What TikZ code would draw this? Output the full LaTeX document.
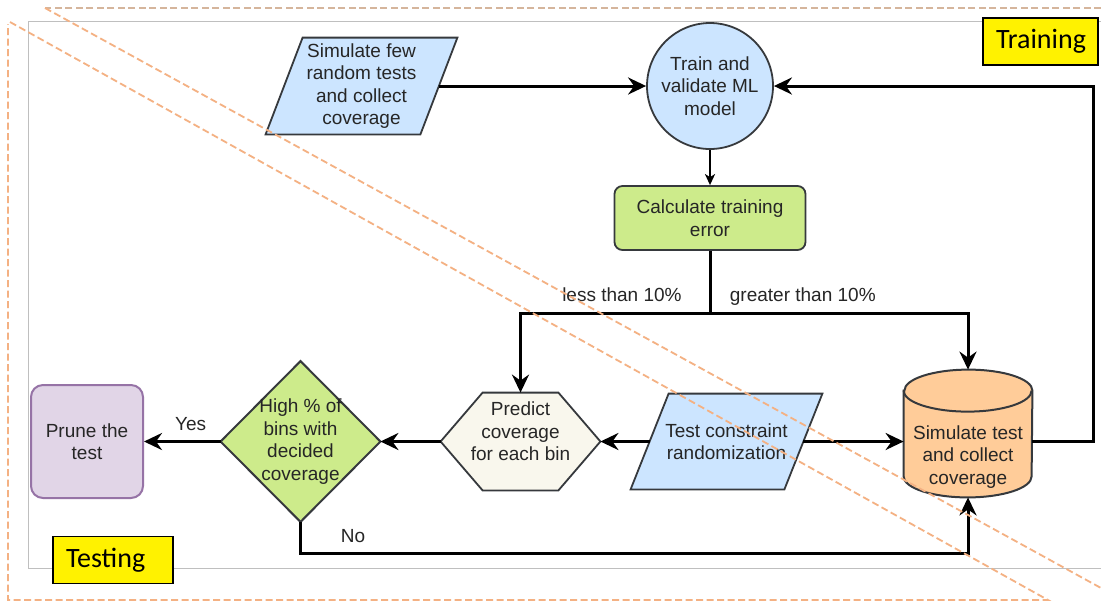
\documentclass[tikz,border=0pt]{standalone}
\usepackage{fontspec}
\setmainfont{Liberation Sans}
\newfontfamily\zonefont{Carlito}
\usetikzlibrary{positioning,arrows.meta,backgrounds}
\definecolor{iofill}{HTML}{CCE5FF}
\definecolor{calcfill}{HTML}{CDEB8B}
\definecolor{hexfill}{HTML}{F9F7ED}
\definecolor{simfill}{HTML}{FFCC99}
\definecolor{prunefill}{HTML}{E1D5E7}
\definecolor{pruneedge}{HTML}{9673A6}
\definecolor{nodeedge}{HTML}{36393D}
\definecolor{zoneorange}{HTML}{F4B183}
\definecolor{trainline}{HTML}{D5B59C}
\definecolor{framegray}{HTML}{BFBFBF}

\begin{document}
\begin{tikzpicture}[x=0.5pt,y=-0.5pt,
        txt/.style={font=\fontsize{9.5}{11.2}\selectfont, align=center, text=black!85, inner sep=0pt},
        edgelbl/.style={font=\fontsize{9.5}{11.2}\selectfont, text=black!85, inner sep=0pt},
        outline/.style={draw=nodeedge, line width=0.9pt},
        flow/.style={line width=1.5pt, -{Stealth[length=9pt,width=8.5pt,inset=3pt]}},
        thinflow/.style={line width=1pt, -{Stealth[length=5.5pt,width=5pt,inset=1.5pt]}},
        zone/.style={draw=black, line width=0.75pt, fill=yellow, font=\zonefont\fontsize{14}{16}\selectfont, align=left, inner xsep=6.5pt, minimum height=23.5pt},
        zoneline/.style={draw=zoneorange, line width=0.9pt, dash pattern=on 3.5pt off 1.75pt}]
        \useasboundingbox (0,0) rectangle (1101,602);
        \node[txt, minimum width=77pt, minimum height=48pt] (few) at (361.5,86) {Simulate few\\random tests\\and collect\\coverage};
        \node[txt, circle, outline, fill=iofill, minimum size=63pt] (train) at (710,86) {Train and\\validate ML\\model};
        \node[txt, outline, fill=calcfill, rounded corners=4pt, minimum width=95.5pt, minimum height=32pt] (calc) at (710,218) {Calculate training\\error};
        \node[txt, minimum width=79.5pt, minimum height=48.5pt] (pred) at (520.5,441.5) {};
        \node[txt] (predtext) at ([yshift=5pt]pred.center) {Predict\\coverage\\for each bin};
        \node[txt, minimum width=76.5pt, minimum height=47.5pt] (tcr) at (726.5,441.5) {Test constraint\\randomization};
        \node[txt, minimum width=79.5pt, minimum height=80pt] (dec) at (300.5,441.5) {High \% of\\bins with\\decided\\coverage};
        \node[txt, draw=pruneedge, line width=1pt, fill=prunefill, rounded corners=6pt, minimum width=56pt, minimum height=56.5pt] (prune) at (87,441.5) {Prune the\\test};
        \node[txt, minimum width=64pt, minimum height=63.5pt] (sim) at (968,433.5) {};
        \node[txt] (simtext) at ([yshift=-11.75pt]sim.center) {Simulate test\\and collect\\coverage};

        \begin{scope}[on background layer]
            \fill[white] (0,0) rectangle (1101,602);
            \draw[outline, fill=iofill] ([xshift=9.25pt]few.north west) -- ([xshift=9.25pt]few.north east) -- ([xshift=-9.25pt]few.south east) -- ([xshift=-9.25pt]few.south west) -- cycle;
            \draw[outline, fill=iofill] ([xshift=9.5pt]tcr.north west) -- ([xshift=9.5pt]tcr.north east) -- ([xshift=-9.5pt]tcr.south east) -- ([xshift=-9.5pt]tcr.south west) -- cycle;
            \draw[outline, fill=hexfill] (pred.west) -- ([xshift=21pt]pred.north west) -- ([xshift=-21pt]pred.north east) -- (pred.east) -- ([xshift=-21pt]pred.south east) -- ([xshift=21pt]pred.south west) -- cycle;
            \draw[outline, line width=1pt, fill=calcfill] (dec.west) -- (dec.north) -- (dec.east) -- (dec.south) -- cycle;
            \draw[outline, line width=1pt, fill=simfill] ([yshift=-10.5pt]sim.north west) -- ([yshift=10.5pt]sim.south west) arc[start angle=180, end angle=360, x radius=32pt, y radius=10.5pt] -- ([yshift=-10.5pt]sim.north east) arc[start angle=0, end angle=180, x radius=32pt, y radius=10.5pt] -- cycle;
            \draw[outline, line width=1pt] ([yshift=-10.5pt]sim.north west) arc[start angle=180, end angle=360, x radius=32pt, y radius=10.5pt];
        \end{scope}

        \coordinate (split) at (710,313);
        \coordinate (lowrun) at (300.5,553);
        \coordinate (backup) at (1093,441.5);
        \draw[flow] (few) -- (train);
        \draw[thinflow] (train) -- (calc);
        \draw[line width=1.5pt] (calc) -- (split);
        \draw[flow] (split) -| (pred);
        \draw[flow] (split) -| (sim);
        \draw[flow] (tcr) -- (pred);
        \draw[flow] (tcr) -- (tcr -| sim.west);
        \draw[flow] (pred) -- (dec);
        \draw[flow] (dec) -- (prune);
        \draw[flow] (dec) -- (lowrun) -| (sim);
        \draw[flow] (sim.east |- tcr) -- (backup) |- (train);
        \node[edgelbl, above left=5.5pt and 14pt of split] (less) {less than 10\%};
        \node[edgelbl, above right=3.5pt and 9.75pt of split] (greater) {greater than 10\%};
        \node[edgelbl, above left=5.25pt and 7pt of dec.west] (yes) {Yes};
        \node[edgelbl, above right=5pt and 20pt of lowrun] (no) {No};

        \draw[draw=framegray, line width=0.5pt] (1101,21) -- (28,21) -- (28,568) -- (1101,568);
        \draw[zoneline, draw=trainline] (1101,8) -- (45,8);
        \draw[zoneline] (45,8) -- (1101,588);
        \draw[zoneline] (10,22) -- (1048,600) -- (8,600) -- (8,24);
        \node[zone, text width=44.5pt] (training) at (1040.5,41.5) {Training};
        \node[zone, text width=47pt] (testing) at (113,560) {Testing};
    \end{tikzpicture}
\end{document}
